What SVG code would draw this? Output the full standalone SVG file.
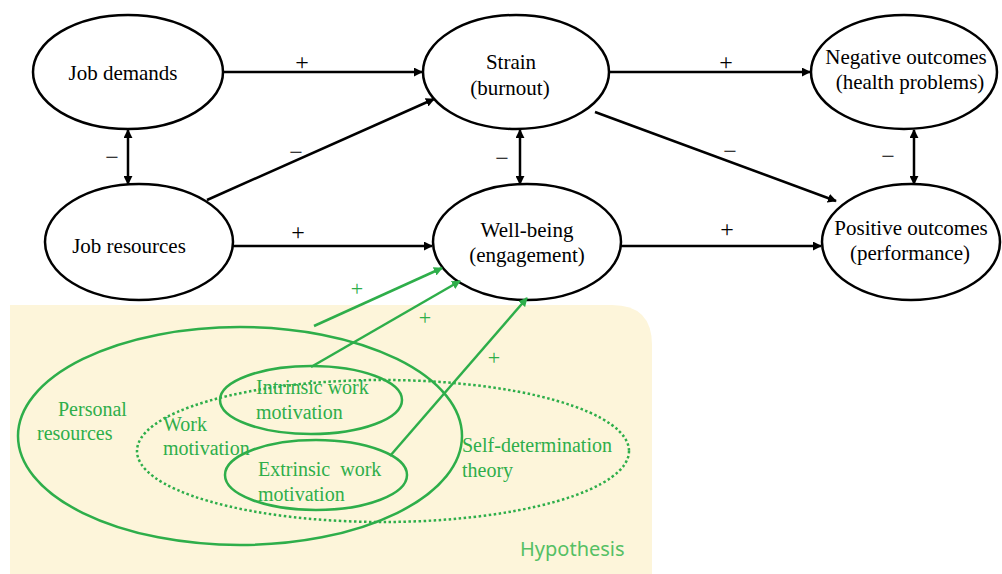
<svg xmlns="http://www.w3.org/2000/svg" width="1002" height="574" viewBox="0 0 1002 574">
<defs>
<marker id="ah" viewBox="0 0 10 10" refX="9" refY="5" markerWidth="9" markerHeight="9" markerUnits="userSpaceOnUse" orient="auto-start-reverse"><path d="M0,0 L10,5 L0,10 z" fill="#000"/></marker>
<marker id="ag" viewBox="0 0 10 10" refX="9" refY="5" markerWidth="9" markerHeight="9" markerUnits="userSpaceOnUse" orient="auto"><path d="M0,0 L10,5 L0,10 z" fill="#2eae4a"/></marker>
<style>
.n{fill:#fff;stroke:#000;stroke-width:2.5}
.t{font-family:"Liberation Serif",serif;font-size:21px;fill:#000;text-anchor:middle}
.c{stroke:#000;stroke-width:2.5;fill:none}
.s{font-family:"Liberation Serif",serif;font-size:24px;fill:#000;text-anchor:middle}
.g{fill:none;stroke:#2eae4a;stroke-width:2.5}
.gt{font-family:"Liberation Serif",serif;font-size:20px;fill:#2eae4a}
.gs{font-family:"Liberation Serif",serif;font-size:22px;fill:#2eae4a;text-anchor:middle}
</style>
</defs>
<rect width="1002" height="574" fill="#fff"/>
<path d="M10,305 H612 Q652,305 652,345 V574 H10 Z" fill="#fdf5da"/>

<g id="job-demands"><ellipse class="n" cx="128" cy="72" rx="95" ry="57"/><text class="t" x="123" y="80">Job demands</text></g>
<g id="job-resources"><ellipse class="n" cx="139" cy="242" rx="94" ry="58"/><text class="t" x="129" y="253">Job resources</text></g>
<g id="strain"><ellipse class="n" cx="516" cy="72" rx="93" ry="57"/><text class="t" x="511" y="69">Strain</text><text class="t" x="510" y="95">(burnout)</text></g>
<g id="well-being"><ellipse class="n" cx="527" cy="242" rx="94" ry="58"/><text class="t" x="527" y="237">Well-being</text><text class="t" x="527" y="262">(engagement)</text></g>
<g id="negative-outcomes"><ellipse class="n" cx="904" cy="72" rx="93" ry="57"/><text class="t" x="906" y="64">Negative outcomes</text><text class="t" x="910" y="89">(health problems)</text></g>
<g id="positive-outcomes"><ellipse class="n" cx="911" cy="242" rx="89" ry="58"/><text class="t" x="911" y="235">Positive outcomes</text><text class="t" x="910" y="260">(performance)</text></g>

<g id="connectors">
<line class="c" x1="222" y1="72" x2="422" y2="72" marker-end="url(#ah)"/>
<line class="c" x1="609" y1="72" x2="810" y2="72" marker-end="url(#ah)"/>
<line class="c" x1="233" y1="246" x2="432" y2="246" marker-end="url(#ah)"/>
<line class="c" x1="621" y1="246" x2="821" y2="246" marker-end="url(#ah)"/>
<line class="c" x1="207" y1="200" x2="434" y2="99" marker-end="url(#ah)"/>
<line class="c" x1="595" y1="112" x2="836" y2="201" marker-end="url(#ah)"/>
<line class="c" x1="128" y1="130" x2="128" y2="184" marker-start="url(#ah)" marker-end="url(#ah)"/>
<line class="c" x1="520" y1="130" x2="520" y2="184" marker-start="url(#ah)" marker-end="url(#ah)"/>
<line class="c" x1="914" y1="130" x2="914" y2="184" marker-start="url(#ah)" marker-end="url(#ah)"/>
<text class="s" x="302" y="70">+</text>
<text class="s" x="726" y="70">+</text>
<text class="s" x="298" y="240">+</text>
<text class="s" x="727" y="237">+</text>
<text class="s" x="296" y="160">−</text>
<text class="s" x="730" y="159">−</text>
<text class="s" x="112" y="165">−</text>
<text class="s" x="502" y="166">−</text>
<text class="s" x="888" y="164">−</text>
<line class="g" x1="314" y1="326" x2="442" y2="268" marker-end="url(#ag)"/>
<line class="g" x1="311" y1="367" x2="460" y2="281" marker-end="url(#ag)"/>
<line class="g" x1="390" y1="456" x2="527" y2="298" marker-end="url(#ag)"/>
<text class="gs" x="357" y="296">+</text>
<text class="gs" x="425" y="325">+</text>
<text class="gs" x="494" y="365">+</text>
</g>

<g id="personal-resources"><ellipse class="g" cx="240" cy="436" rx="222" ry="109"/><text class="gt" x="58" y="416">Personal</text><text class="gt" x="37" y="440">resources</text></g>
<g id="self-determination-theory"><ellipse class="g" cx="383" cy="451" rx="246" ry="71" stroke-dasharray="2.5 2.5"/><text class="gt" x="462" y="452">Self-determination</text><text class="gt" x="462" y="477">theory</text></g>
<g id="work-motivation"><text class="gt" x="163" y="431">Work</text><text class="gt" x="163" y="455">motivation</text></g>
<g id="intrinsic"><ellipse class="g" cx="311" cy="400" rx="91" ry="34"/><text class="gt" x="256" y="394">Intrinsic work</text><text class="gt" x="256" y="419">motivation</text></g>
<g id="extrinsic"><ellipse class="g" cx="316" cy="475" rx="91" ry="35"/><text class="gt" x="258" y="476" xml:space="preserve">Extrinsic  work</text><text class="gt" x="258" y="501">motivation</text></g>
<text x="520" y="556" font-family="'Noto Sans',sans-serif" font-size="20" fill="#55c064">Hypothesis</text>
</svg>
